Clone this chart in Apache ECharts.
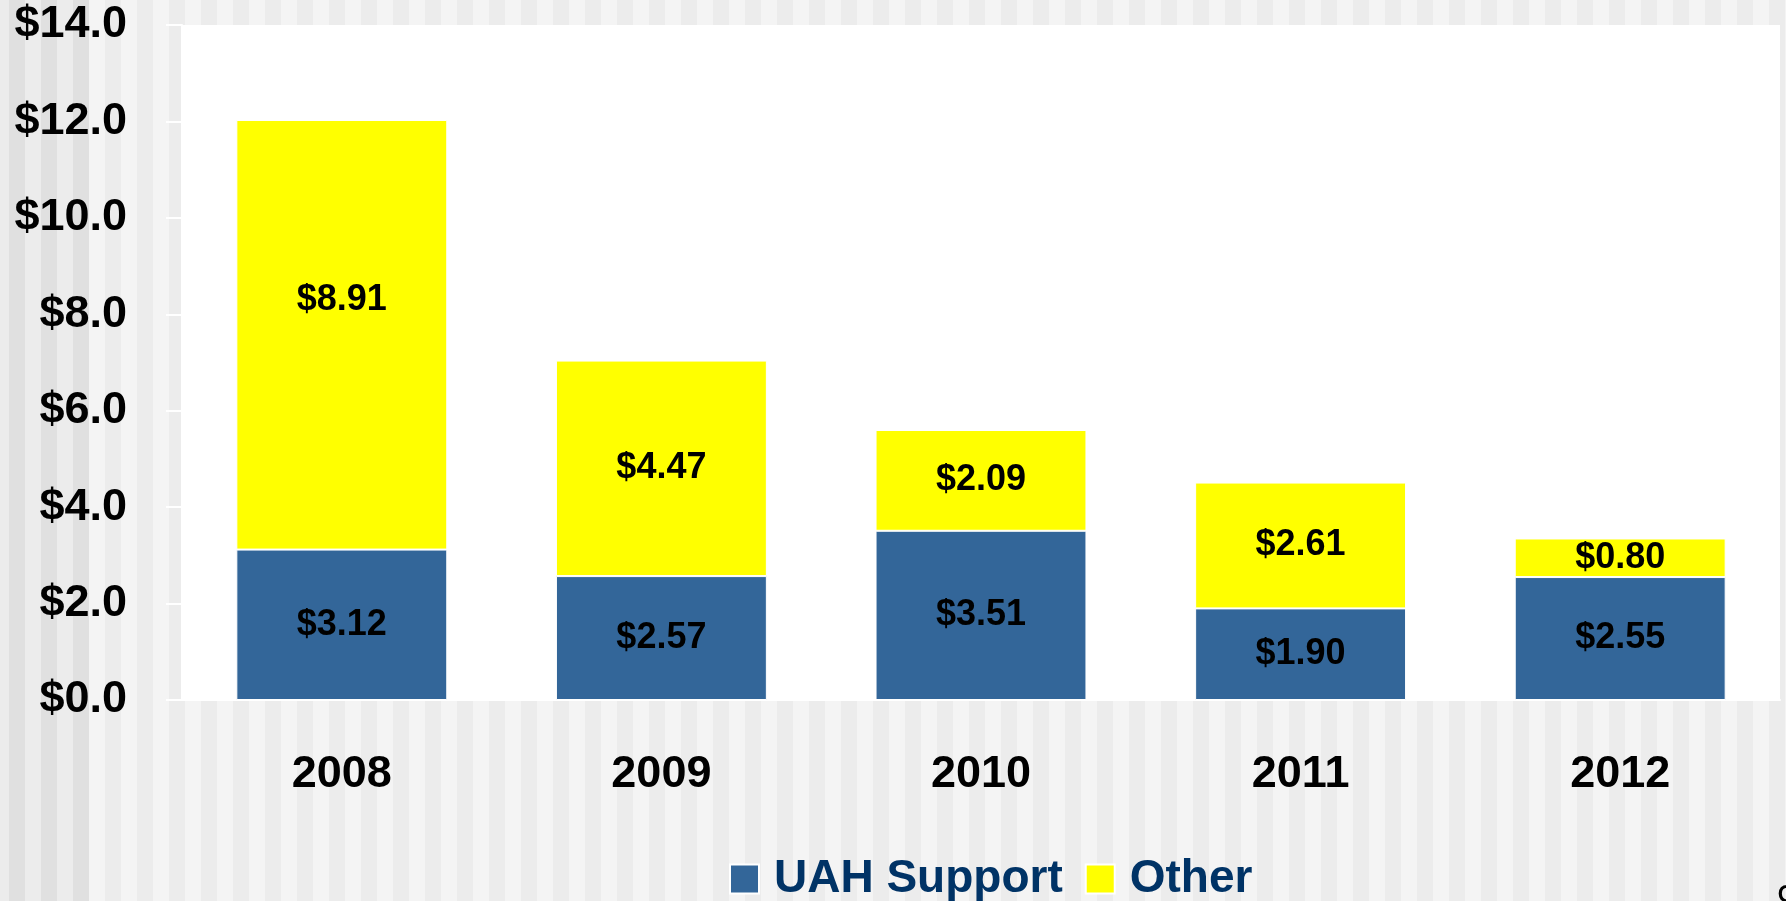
<!DOCTYPE html>
<html>
<head>
<meta charset="utf-8">
<title>UAH Support / Other</title>
<script src="https://cdn.jsdelivr.net/npm/echarts@6/dist/echarts.min.js"></script>
<style>
	html, body {
		margin: 0;
		padding: 0;
		width: 1786px;
		height: 901px;
		overflow: hidden;
		background: repeating-linear-gradient(90deg, #f4f4f4 0px, #f4f4f4 9px, #ececec 9px, #ececec 25px, #f4f4f4 25px, #f4f4f4 32px);
	}
	#leftBand {
		position: absolute;
		left: 0;
		top: 0;
		width: 89px;
		height: 901px;
		background: repeating-linear-gradient(90deg, #ececec 0px, #ececec 9px, #e0e0e0 9px, #e0e0e0 25px, #ececec 25px, #ececec 32px);
	}
	#main {
		position: absolute;
		left: 0;
		top: 0;
		width: 1786px;
		height: 901px;
	}
</style>
</head>
<body>
<div id="leftBand"></div>
<div id="main"></div>
<script>
	// 数据
	var years = ['2008', '2009', '2010', '2011', '2012'];
	var uahSupport = [3.12, 2.57, 3.51, 1.90, 2.55];
	var other = [8.91, 4.47, 2.09, 2.61, 0.80];
	var yTicks = [0, 2, 4, 6, 8, 10, 12, 14];

	var fontName = '"Liberation Sans", Arial, sans-serif';

	//金额格式
	function money(v, n) {
		return '$' + Number(v).toFixed(n);
	}

	// 2008 的 Other 标签在原图里偏上
	var otherData = [];
	for (var i = 0; i < other.length; i++) {
		var item = { value: other[i] };
		if (i == 0) {
			item.label = { offset: [0, -35] };
		}
		otherData.push(item);
	}

	var myChart = echarts.init(document.getElementById('main'), null, { renderer: 'canvas' });
	var option = {
		backgroundColor: 'transparent',
		animation: false,
		textStyle: {
			fontFamily: fontName
		},
		grid: {
			left: 182,
			top: 25,
			right: 6,
			bottom: 201,
			show: true,
			backgroundColor: '#ffffff',
			borderWidth: 0
		},
		legend: {
			left: 724,
			top: 851,
			itemWidth: 29,
			itemHeight: 29,
			itemGap: 22,
			icon: 'rect',
			itemStyle: {
				borderColor: '#ffffff',
				borderWidth: 2
			},
			textStyle: {
				fontFamily: fontName,
				fontSize: 46,
				fontWeight: 'bold',
				color: '#003366',
				padding: [0, 0, 0, 10]
			},
			data: ['UAH Support', 'Other']
		},
		xAxis: {
			type: 'category',
			data: years,
			axisLine: { lineStyle: { color: '#ffffff', width: 2 } },
			axisTick: { length: 16, lineStyle: { color: '#ffffff', width: 2 } },
			axisLabel: {
				margin: 52,
				fontSize: 45,
				fontWeight: 'bold',
				color: '#000000',
				fontFamily: fontName
			}
		},
		yAxis: {
			type: 'value',
			min: yTicks[0],
			max: yTicks[yTicks.length - 1],
			interval: 2,
			splitLine: { show: false },
			axisLine: { show: true, lineStyle: { color: '#ffffff', width: 2 } },
			axisTick: { show: true, length: 16, lineStyle: { color: '#ffffff', width: 2 } },
			axisLabel: {
				margin: 55,
				fontSize: 45,
				fontWeight: 'bold',
				color: '#000000',
				fontFamily: fontName,
				formatter: function(v) {
					return money(v, 1);
				}
			}
		},
		series: [{
			name: 'UAH Support',
			type: 'bar',
			stack: 'total',
			barWidth: '66%',
			data: uahSupport,
			itemStyle: {
				color: '#336699',
				borderColor: '#ffffff',
				borderWidth: 1
			},
			label: {
				show: true,
				position: 'inside',
				fontSize: 36,
				fontWeight: 'bold',
				color: '#000000',
				fontFamily: fontName,
				formatter: function(p) {
					return money(p.value, 2);
				}
			}
		}, {
			name: 'Other',
			type: 'bar',
			stack: 'total',
			barWidth: '66%',
			data: otherData,
			itemStyle: {
				color: '#ffff00',
				borderColor: '#ffffff',
				borderWidth: 1
			},
			label: {
				show: true,
				position: 'inside',
				fontSize: 36,
				fontWeight: 'bold',
				color: '#000000',
				fontFamily: fontName,
				formatter: function(p) {
					return money(p.value, 2);
				}
			}
		}],
		graphic: [{
			// 页码，原图只露出一角
			type: 'text',
			left: 1777,
			top: 883,
			style: {
				text: '9',
				fontSize: 36,
				fontFamily: fontName,
				fill: '#000000'
			}
		}]
	};
	myChart.setOption(option);
</script>
</body>
</html>
